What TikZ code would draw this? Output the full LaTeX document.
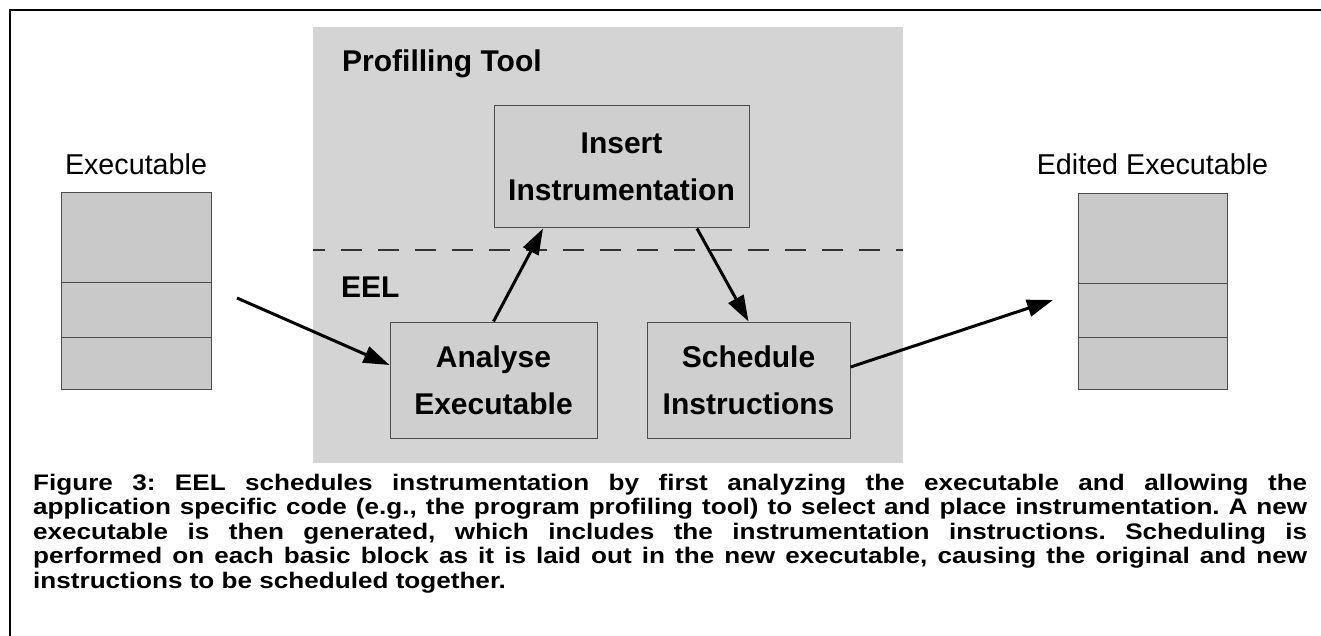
\documentclass[tikz,border=0pt]{standalone}
\usepackage{fontspec}
\setmainfont{Liberation Sans}
\newfontfamily\capfont[FakeStretch=1.16]{Liberation Sans}
\usetikzlibrary{arrows.meta,calc}
\definecolor{panelgray}{gray}{0.83}
\definecolor{boxgray}{gray}{0.81}
\definecolor{stackgray}{gray}{0.79}
\definecolor{boxline}{gray}{0.30}
\begin{document}
\frenchspacing
\begin{tikzpicture}[x=1pt,y=-1pt,
  frame/.style={line width=1.6pt,draw=black},
  panel/.style={fill=panelgray,draw=none,inner sep=0pt},
  procbox/.style={draw=boxline,line width=1pt,fill=boxgray,inner sep=0pt,
    font=\bfseries\fontsize{30}{47}\selectfont,align=center},
  stackbox/.style={draw=boxline,line width=1pt,fill=stackgray,inner sep=0pt},
  stackline/.style={draw=boxline,line width=1pt},
  layertitle/.style={font=\bfseries\fontsize{30}{36}\selectfont,inner sep=0pt,anchor=base west},
  filelabel/.style={font=\fontsize{28.7}{34}\selectfont,inner sep=0pt,anchor=base},
  dashline/.style={line width=1.4pt,draw=black!80,dash pattern=on 21pt off 16pt,dash phase=9pt},
  arr/.style={line width=3pt,-{Triangle[length=26pt,width=17pt]}},
  captext/.style={font=\capfont\bfseries\fontsize{22.5}{24.5}\selectfont,inner sep=0pt,anchor=base west}
]
\useasboundingbox (0,0) rectangle (1321,636);
% frame
\coordinate (ftr) at (1321,10);
\coordinate (ftl) at (10,10);
\coordinate (fbl) at (10,636);
\draw[frame] (ftr) -- (ftl) -- (fbl);
% panel
\node[panel,minimum width=590pt,minimum height=436pt] (panel) at (608,245) {};
\node[layertitle] (ptool) at (342,72) {Profilling Tool};
\node[layertitle] (eel) at (341,297) {EEL};
\coordinate (dl) at (313,250);
\coordinate (dr) at (903,250);
\draw[dashline] (dl) -- (dr);
% process boxes
\node[procbox,minimum width=255pt,minimum height=122pt] (ins) at (621.5,167) {Insert\\Instrumentation};
\node[procbox,minimum width=207pt,minimum height=116pt] (ana) at (493.5,380) {Analyse\\Executable};
\node[procbox,minimum width=203pt,minimum height=116pt] (sch) at (748.5,380) {Schedule\\Instructions};
% executables
\node[filelabel] (exelab) at (136,175) {Executable};
\node[stackbox,minimum width=150pt,minimum height=196pt] (exe) at (136,291) {};
\draw[stackline] ($(exe.north west)+(0,90)$) -- ($(exe.north east)+(0,90)$);
\draw[stackline] ($(exe.north west)+(0,145)$) -- ($(exe.north east)+(0,145)$);
\node[filelabel] (edlab) at (1152.5,175) {Edited Executable};
\node[stackbox,minimum width=149pt,minimum height=195pt] (ed) at (1152.5,291.5) {};
\draw[stackline] ($(ed.north west)+(0,90)$) -- ($(ed.north east)+(0,90)$);
\draw[stackline] ($(ed.north west)+(0,144)$) -- ($(ed.north east)+(0,144)$);
% arrows
\coordinate (instart) at (237,298);
\coordinate (outend) at (1053,300);
\draw[arr] (instart) -- ([yshift=15pt]ana.west);
\draw[arr] (ana.north) -- ([xshift=-78.5pt]ins.south);
\draw[arr] ([xshift=75.5pt]ins.south) -- (sch.north);
\draw[arr] ([yshift=13pt]sch.east) -- (outend);
% caption
\node[captext] (cap1) at (33,490) {\makebox[1274pt][s]{Figure 3: EEL schedules instrumentation by first analyzing the executable and allowing the}};
\node[captext] (cap2) at (33,514.5) {\makebox[1274pt][s]{application specific code (e.g., the program profiling tool) to select and place instrumentation. A new}};
\node[captext] (cap3) at (33,539) {\makebox[1274pt][s]{executable is then generated, which includes the instrumentation instructions. Scheduling is}};
\node[captext] (cap4) at (33,563.5) {\makebox[1274pt][s]{performed on each basic block as it is laid out in the new executable, causing the original and new}};
\node[captext] (cap5) at (33,588) {instructions to be scheduled together.};
\end{tikzpicture}
\end{document}
